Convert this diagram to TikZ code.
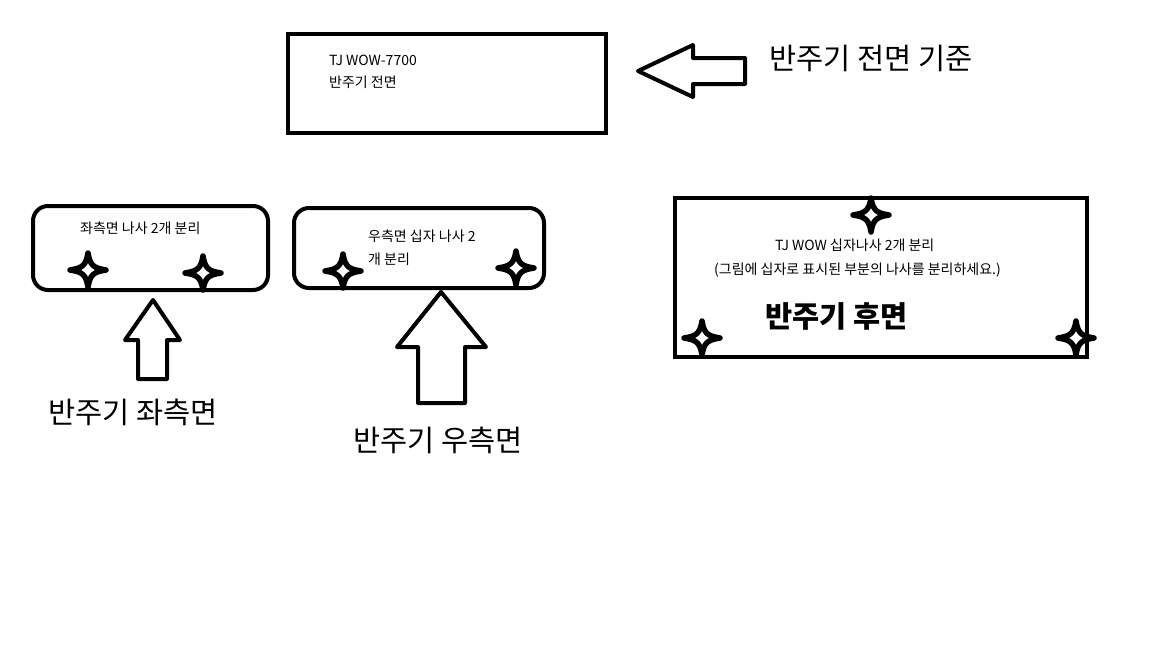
\documentclass[tikz,border=0pt]{standalone}
\usepackage{fontspec}
\setmainfont{Noto Sans CJK KR}
\tikzset{
  box/.style={draw=black, line width=4pt, inner sep=0pt},
  rbox/.style={box, rounded corners=15pt},
  small/.style={font=\fontsize{14}{16}\selectfont, inner sep=0pt, anchor=west},
  big/.style={font=\fontsize{29.5}{32}\selectfont, inner sep=0pt, anchor=west},
  blockarrow/.style={draw=black, line width=4pt, line join=round, fill=white},
  cross/.pic={\draw[line width=5.5pt, line join=round, fill=white]
     (0,-17) .. controls (-2,-5) and (-5,-2) .. (-18,0)
     .. controls (-5,2) and (-2,5) .. (0,17)
     .. controls (2,5) and (5,2) .. (18,0)
     .. controls (5,-2) and (2,-5) .. cycle;}
}
\begin{document}
\begin{tikzpicture}[x=1pt,y=-1pt]
\useasboundingbox[fill=white] (0,0) rectangle (1152,648);
% front box
\node[box, minimum width=318pt, minimum height=99pt] (front) at (447,83.5) {};
\node[small] (fronta) at (329,60) {TJ WOW-7700};
\node[small] (frontb) at (329,82) {반주기 전면};
\draw[blockarrow] (638,71) -- (693,45) -- (693,58) -- (745,58) -- (745,84) -- (693,84) -- (693,97) -- cycle;
\node[big] (frontlbl) at (769,58) {반주기 전면 기준};
% left side box
\node[rbox, minimum width=235pt, minimum height=84pt] (left) at (150.5,248) {};
\node[small] (lefta) at (80,228) {좌측면 나사 2개 분리};
\pic at (88,270) {cross};
\pic at (203,273) {cross};
\draw[blockarrow] (153,300) -- (180,340) -- (167,340) -- (167,379) -- (138,379) -- (138,340) -- (125,340) -- cycle;
\node[big] (leftlbl) at (48,412) {반주기 좌측면};
% right side box
\node[rbox, minimum width=250pt, minimum height=80pt] (right) at (419,248) {};
\node[small] (righta) at (368,236) {우측면 십자 나사 2};
\node[small] (rightb) at (368,259) {개 분리};
\pic at (343,271) {cross};
\pic at (516,268) {cross};
\draw[blockarrow] (441,292) -- (486,347) -- (465,347) -- (465,403) -- (418,403) -- (418,347) -- (397,347) -- cycle;
\node[big] (rightlbl) at (353,440) {반주기 우측면};
% rear box
\node[box, minimum width=412pt, minimum height=159pt] (rear) at (881,277.5) {};
\node[small] (reara) at (775,245) {TJ WOW 십자나사 2개 분리};
\node[small] (rearb) at (714,270) {(그림에 십자로 표시된 부분의 나사를 분리하세요.)};
\node[big, font=\fontsize{29.5}{32}\selectfont\bfseries] (rearlbl) at (765,316) {반주기 후면};
\pic at (871,215) {cross};
\pic at (702,338) {cross};
\pic at (1076,338) {cross};
\end{tikzpicture}
\end{document}
